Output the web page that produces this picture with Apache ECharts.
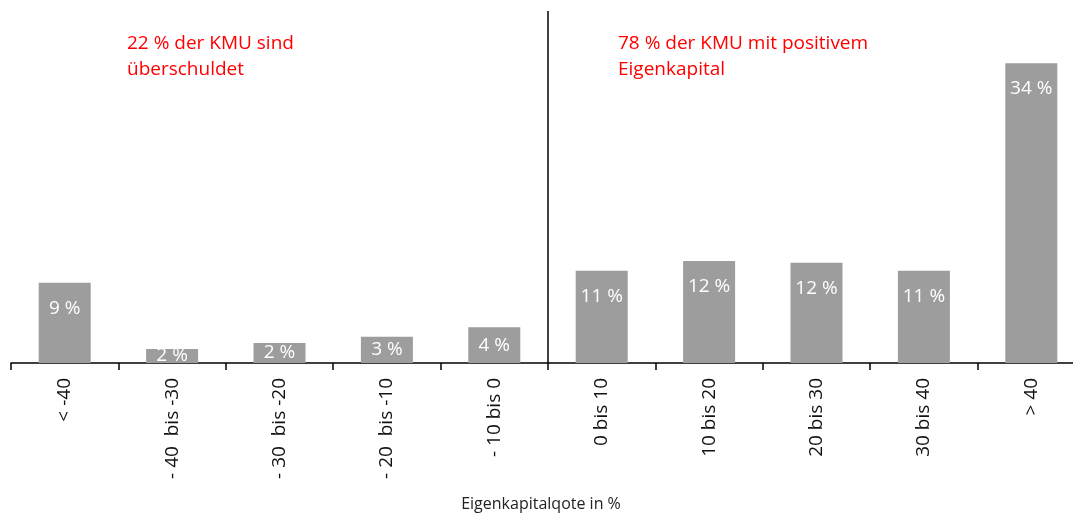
<!DOCTYPE html>
<html>
<head>
<meta charset="utf-8">
<script src="https://cdn.jsdelivr.net/npm/echarts@6/dist/echarts.min.js"></script>
<style>html,body{margin:0;padding:0;background:#fff}#c{width:1073px;height:514px}</style>
</head>
<body>
<div id="c"></div>
<script>
const categories = ["< -40", "- 40  bis -30", "- 30  bis -20", "- 20  bis -10", "- 10 bis 0", "0 bis 10", "10 bis 20", "20 bis 30", "30 bis 40", "> 40"];
const shares = [9.2, 1.6, 2.3, 3.0, 4.1, 10.6, 11.7, 11.5, 10.6, 34.4];
const noteLeft = ["22 % der KMU sind", "überschuldet"];
const noteRight = ["78 % der KMU mit positivem", "Eigenkapital"];
const axisTitle = "Eigenkapitalqote in %";
const dividerAt = 5;

const FONT = '"Open Sans"';
const yMax = 40.4;
const gridTop = 11, gridBottom = 151;
const pxPerUnit = (514 - gridTop - gridBottom) / yMax;

const chart = echarts.init(document.getElementById('c'), null, {renderer: 'canvas'});
chart.setOption({
  animation: false,
  grid: {left: 11, right: -12, top: gridTop, bottom: gridBottom, containLabel: false, outerBoundsMode: 'none'},
  xAxis: [{
    type: 'category',
    data: categories,
    axisLine: {lineStyle: {color: '#000', width: 1.5}},
    axisTick: {show: true, length: 7, inside: false, lineStyle: {color: '#000', width: 1.5}},
    axisLabel: {rotate: 90, interval: 0, margin: 15, color: '#111', fontFamily: FONT, fontSize: 19},
    name: axisTitle,
    nameLocation: 'middle',
    nameGap: 133,
    nameTextStyle: {color: '#222', fontFamily: FONT, fontSize: 16, padding: [0, 14, 0, 0]}
  }, {
    type: 'value', min: 0, max: categories.length, show: false
  }],
  yAxis: {type: 'value', min: 0, max: yMax, show: false},
  series: [{
    type: 'bar',
    xAxisIndex: 0,
    barWidth: 52,
    itemStyle: {color: '#9d9d9d'},
    data: shares.map(v => ({
      value: v,
      label: v * pxPerUnit < 52 ? {position: 'inside'} : {position: 'insideTop', distance: 16}
    })),
    label: {
      show: true,
      color: '#fff',
      fontFamily: FONT,
      fontSize: 19,
      formatter: p => Math.round(p.value) + ' %'
    }
  }, {
    type: 'line',
    xAxisIndex: 1,
    data: [],
    silent: true,
    markLine: {
      symbol: 'none',
      silent: true,
      label: {show: false},
      lineStyle: {color: '#000', width: 1.5, type: 'solid'},
      data: [{xAxis: dividerAt}]
    }
  }],
  graphic: [
    {type: 'text', left: 127, top: 31, style: {text: noteLeft.join('\n'), fill: '#ff0000', font: '19px ' + FONT, lineHeight: 26}},
    {type: 'text', left: 618, top: 31, style: {text: noteRight.join('\n'), fill: '#ff0000', font: '19px ' + FONT, lineHeight: 26}}
  ]
});
</script>
</body>
</html>
